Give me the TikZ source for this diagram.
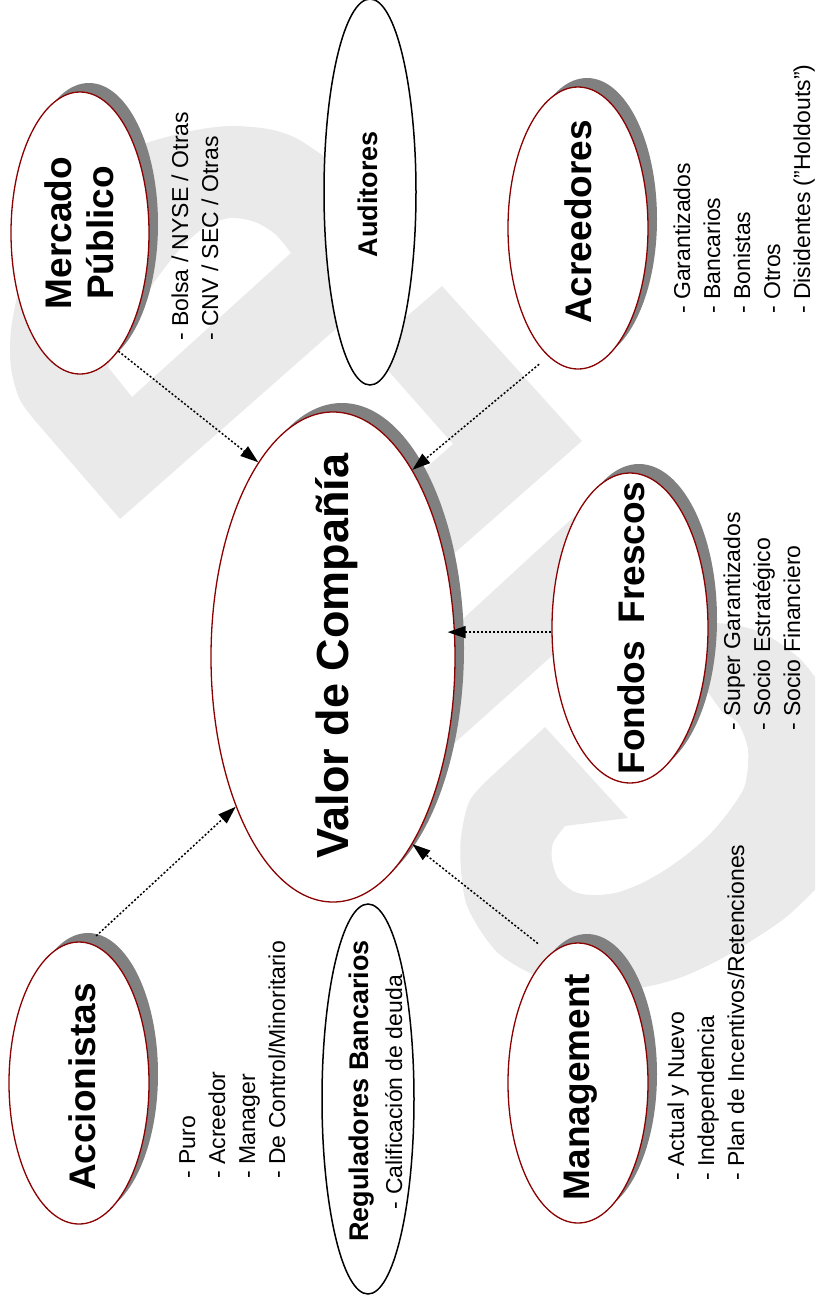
\documentclass[tikz,border=0pt]{standalone}
\usepackage{fontspec}
\setmainfont{Liberation Sans}
\usetikzlibrary{shapes.geometric,shadows,arrows.meta}
\definecolor{rim}{HTML}{8B0000}
\definecolor{shade}{HTML}{808080}
\definecolor{logogray}{HTML}{EAEAEA}

\begin{document}
\begin{tikzpicture}[x=1pt,y=-1pt,
  party/.style={ellipse, draw=rim, fill=white, line width=1.3pt, inner sep=0pt,
    drop shadow={shadow xshift=9pt, shadow yshift=9pt, fill=shade, opacity=1}},
  plain/.style={ellipse, draw=black, fill=white, line width=1.5pt, inner sep=0pt},
  logo/.style={fill=logogray},
  bigtitle/.style={rotate=90, anchor=base, inner sep=0pt, font=\bfseries\fontsize{45}{54}\selectfont},
  title/.style={rotate=90, anchor=base, inner sep=0pt, font=\bfseries\fontsize{37}{42}\selectfont},
  smalltitle/.style={rotate=90, anchor=base, inner sep=0pt, font=\bfseries\fontsize{27}{30}\selectfont},
  subline/.style={rotate=90, anchor=base, inner sep=0pt, font=\fontsize{23}{30}\selectfont},
  items/.style={rotate=90, anchor=base west, align=left, inner sep=0pt, font=\fontsize{23}{30}\selectfont},
  link/.style={line width=1.5pt, dash pattern=on 2pt off 2pt, -{Triangle[length=18pt,width=12pt]}}
]
\useasboundingbox (0,0) rectangle (815,1302);

% light background logo
\begin{scope}
\clip (0,0) rectangle (815,1302);
\fill[logo, even odd rule]
  (120,519) -- (413,261) -- (325,157)
  -- plot[smooth] coordinates {(325,157) (296,138) (268,129) (230,126) (191,131) (140,145) (96,165) (60,195) (35,235) (20,284) (11,330) (11,368) (20,400) (37,423)}
  -- cycle
  (132,397) -- (291,253)
  -- plot[smooth] coordinates {(291,253) (275,234) (255,222) (230,218) (205,227) (180,249) (153,284) (130,322) (114,352) (108,367)}
  -- cycle;
\fill[logo] (369,349) -- (442,286) -- (582,441) -- (417,586) -- (393,497) -- (453,444) -- cycle;
\fill[logo] (440,640) -- (603,490) -- (640,577) -- (430,765) -- cycle;
\fill[logo] (495,773)
  -- plot[smooth] coordinates {(495,773) (470,800) (461,837) (461,870) (466,903) (480,930) (498,953) (522,969) (550,981) (582,988) (615,990) (650,986) (682,977) (715,962) (748,943) (785,918) (815,890) (845,860)}
  -- (845,680) -- (815,677)
  -- plot[smooth] coordinates {(815,677) (798,657) (765,634) (735,625) (715,623)}
  -- (685,660) -- (722,712)
  -- plot[smooth] coordinates {(722,712) (738,723) (748,750) (745,785) (730,810) (712,832) (690,852) (665,870) (640,884) (615,893) (590,895) (573,891) (558,878) (552,860) (553,843) (565,826)}
  -- (628,818) -- (545,727) -- cycle;
\end{scope}

% ellipses
\node[party, minimum width=244pt, minimum height=490pt] (main) at (333,657) {};
\node[party, minimum width=138pt, minimum height=282pt] (merc) at (80,233) {};
\node[party, minimum width=140pt, minimum height=282pt] (acre) at (578,228) {};
\node[party, minimum width=156pt, minimum height=310pt] (fondos) at (630,628) {};
\node[party, minimum width=140pt, minimum height=282pt] (accion) at (79,1083) {};
\node[party, minimum width=140pt, minimum height=280pt] (mgmt) at (578,1083) {};
\node[plain, minimum width=92pt, minimum height=386pt] (aud) at (370,192) {};
\node[plain, minimum width=92pt, minimum height=390pt] (regul) at (368,1099) {};

% titles
\node[bigtitle] (t-main) at (348,656) {Valor de Compañía};
\node[title, anchor=center, align=center] (t-merc) at (79,233) {Mercado\\Público};
\node[title] (t-acre) at (591,222) {Acreedores};
\node[title] (t-fondos) at (644,628) {Fondos\hspace{0.2em} Frescos};
\node[title] (t-accion) at (95,1087) {Accionistas};
\node[title] (t-mgmt) at (589,1087) {Management};
\node[smalltitle] (t-aud) at (377,194) {Auditores};
\node[smalltitle] (t-regul) at (368,1091) {Reguladores Bancarios};
\node[subline] (s-regul) at (402,1092) {- Calificación de deuda};

% lists (anchored on the baseline of their last line)
\node[items] (l-merc) at (218,341) {- Bolsa / NYSE / Otras\\- CNV / SEC / Otras};
\node[items] (l-acre) at (810,314) {- Garantizados\\- Bancarios\\- Bonistas\\- Otros\\- Disidentes ("Holdouts")};
\node[items] (l-fondos) at (800,731) {- Super Garantizados\\- Socio Estratégico\\- Socio Financiero};
\node[items] (l-accion) at (285,1179) {- Puro\\- Acreedor\\- Manager\\- De Control/Minoritario};
\node[items] (l-mgmt) at (744,1181) {- Actual y Nuevo\\- Independencia\\- Plan de Incentivos/Retenciones};

% connectors
\draw[link] (merc.-72) -- (main.111);
\draw[link, shorten <=12pt] (acre.-103) -- (main.67);
\draw[link, shorten >=-8pt] (fondos.183) -- (fondos.183 -| main.east);
\draw[link, shorten <=16pt] (mgmt.102) -- (main.-67);
\draw[link, shorten <=10pt] (accion.86) -- (main.-123);
\end{tikzpicture}
\end{document}
